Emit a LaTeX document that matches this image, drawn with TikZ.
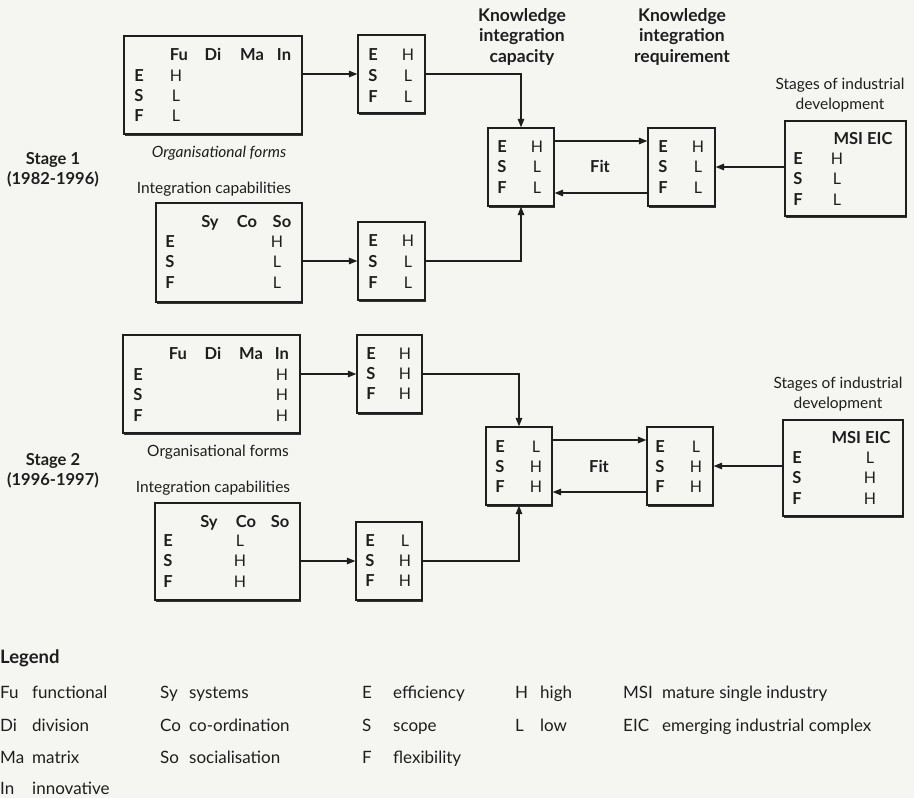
\documentclass[tikz,border=0pt]{standalone}
\usepackage{fontspec}
\setmainfont{Lato}
\usetikzlibrary{arrows.meta,shadows}

\definecolor{paper}{RGB}{245,245,241}
\definecolor{ink}{RGB}{30,30,30}

\tikzset{
  every node/.style={text=ink},
  txt/.style={inner sep=0pt, anchor=base, yshift=-6pt,
              font=\fontsize{16}{20.5}\selectfont},
  hd/.style={txt, font=\fontsize{16.5}{20.5}\selectfont\bfseries},
  ttl/.style={txt, align=center, font=\fontsize{17.5}{20.5}\selectfont\bfseries},
  stagelbl/.style={txt, align=center, font=\fontsize{16.5}{20}\selectfont\bfseries},
  captxt/.style={txt, align=center, font=\fontsize{15.5}{20}\selectfont},
  lg/.style={txt, anchor=base west, font=\fontsize{17}{20}\selectfont},
  tbl/.style={draw=ink, line width=1.2pt, fill=paper, inner sep=0pt,
              drop shadow={shadow xshift=1.3pt, shadow yshift=-1.6pt,
                           opacity=0.9, fill=ink}},
  arr/.style={draw=ink, line width=1.1pt,
              -{Triangle[length=8.5pt,width=6.5pt]}},
}

% bold row letters E, S, F: prefix, x, first y, row step
\newcommand{\esfrows}[4]{%
  \node[hd] (#1-E) at (#2,#3) {E};
  \node[hd] (#1-S) at (#2,#3+#4) {S};
  \node[hd] (#1-F) at (#2,#3+2*#4) {F};}
% ratings column: prefix, x, first y, row step, three values
\newcommand{\ratings}[7]{%
  \node[txt] (#1-1) at (#2,#3) {#5};
  \node[txt] (#1-2) at (#2,#3+#4) {#6};
  \node[txt] (#1-3) at (#2,#3+2*#4) {#7};}

\begin{document}
\begin{tikzpicture}[x=1pt,y=-1pt]
\useasboundingbox (0,0) rectangle (914,798);
\fill[paper] (0,0) rectangle (914,798);

% ---------------- Stage 1 ----------------
\node[tbl, minimum width=178pt, minimum height=98pt] (a1) at (213,85) {};
\node[tbl, minimum width=146pt, minimum height=99pt] (b1) at (229,252.5) {};
\node[tbl, minimum width=67pt, minimum height=78pt] (c1) at (391.5,74) {};
\node[tbl, minimum width=67pt, minimum height=78pt] (d1) at (391.5,261) {};
\node[tbl, minimum width=66pt, minimum height=78pt] (k1) at (521,167) {};
\node[tbl, minimum width=67pt, minimum height=78pt] (r1) at (681.5,167) {};
\node[tbl, minimum width=121pt, minimum height=95pt] (s1) at (845.5,168.5) {};

% organisational forms
\node[hd] (a1-fu) at (179,54) {Fu};
\node[hd] (a1-di) at (213,54) {Di};
\node[hd] (a1-ma) at (252,54) {Ma};
\node[hd] (a1-in) at (284,54) {In};
\esfrows{a1r}{139}{75}{20}
\ratings{a1v}{176}{75}{20}{H}{L}{L}
% integration capabilities
\node[hd] (b1-sy) at (210,221) {Sy};
\node[hd] (b1-co) at (247,221) {Co};
\node[hd] (b1-so) at (282,221) {So};
\esfrows{b1r}{170}{241}{20.5}
\ratings{b1v}{277}{241}{20.5}{H}{L}{L}
% summaries
\esfrows{c1r}{373}{54}{21}
\ratings{c1v}{408}{54}{21}{H}{L}{L}
\esfrows{d1r}{373}{240}{21}
\ratings{d1v}{408}{240}{21}{H}{L}{L}
\esfrows{k1r}{502}{146}{20.5}
\ratings{k1v}{537}{146}{20.5}{H}{L}{L}
\esfrows{r1r}{663}{146}{20.5}
\ratings{r1v}{698}{146}{20.5}{H}{L}{L}
% industrial development
\node[hd] (s1-h) at (863,138) {MSI EIC};
\esfrows{s1r}{798}{158}{20.5}
\ratings{s1v}{837}{158}{20.5}{H}{L}{L}

\node[captxt, font=\fontsize{15.5}{20}\selectfont\itshape] (org1) at (219,151) {Organisational forms};
\node[captxt] (int1) at (214,187) {Integration capabilities};
\node[stagelbl] (stg1) at (53,178) {Stage 1\\(1982-1996)};
\node[ttl] (kic) at (522,56) {Knowledge\\integration\\capacity};
\node[ttl] (kir) at (682,56) {Knowledge\\integration\\requirement};
\node[captxt] (sid1) at (840,103) {Stages of industrial\\development};
\node[hd] (fit1) at (600,166) {Fit};

\draw[arr] (a1.east |- c1.west) -- (c1.west);
\draw[arr] (b1.east |- d1.west) -- (d1.west);
\draw[arr] (c1.east) -| (k1.north);
\draw[arr] (d1.east) -| (k1.south);
\draw[arr] ([yshift=26pt]k1.east) -- ([yshift=26pt]k1.east -| r1.west);
\draw[arr] ([yshift=-26pt]r1.west) -- ([yshift=-26pt]r1.west -| k1.east);
\draw[arr] (r1.east -| s1.west) -- (r1.east);

% ---------------- Stage 2 ----------------
\node[tbl, minimum width=177pt, minimum height=98pt] (a2) at (211.5,384) {};
\node[tbl, minimum width=145pt, minimum height=97pt] (b2) at (227.5,551.5) {};
\node[tbl, minimum width=65pt, minimum height=78pt] (c2) at (389.5,374) {};
\node[tbl, minimum width=66pt, minimum height=78pt] (d2) at (389,561) {};
\node[tbl, minimum width=66pt, minimum height=78pt] (k2) at (519,466) {};
\node[tbl, minimum width=66pt, minimum height=78pt] (r2) at (680,466) {};
\node[tbl, minimum width=120pt, minimum height=96pt] (s2) at (843,468) {};

\node[hd] (a2-fu) at (178,353) {Fu};
\node[hd] (a2-di) at (213,353) {Di};
\node[hd] (a2-ma) at (251,353) {Ma};
\node[hd] (a2-in) at (282,353) {In};
\esfrows{a2r}{138}{374}{20.5}
\ratings{a2v}{282}{374}{20.5}{H}{H}{H}
\node[hd] (b2-sy) at (209,521) {Sy};
\node[hd] (b2-co) at (246,521) {Co};
\node[hd] (b2-so) at (280,521) {So};
\esfrows{b2r}{168}{540}{20.5}
\ratings{b2v}{240}{540}{20.5}{L}{H}{H}
\esfrows{c2r}{371}{353}{20}
\ratings{c2v}{405}{353}{20}{H}{H}{H}
\esfrows{d2r}{370}{540}{20}
\ratings{d2v}{405}{540}{20}{L}{H}{H}
\esfrows{k2r}{500}{446}{20}
\ratings{k2v}{536}{446}{20}{L}{H}{H}
\esfrows{r2r}{660}{446}{20}
\ratings{r2v}{696}{446}{20}{L}{H}{H}
\node[hd] (s2-h) at (861,437) {MSI EIC};
\esfrows{s2r}{797}{457}{20.5}
\ratings{s2v}{870}{457}{20.5}{L}{H}{H}

\node[captxt] (org2) at (218,450) {Organisational forms};
\node[captxt] (int2) at (213,486) {Integration capabilities};
\node[stagelbl] (stg2) at (53,479) {Stage 2\\(1996-1997)};
\node[captxt] (sid2) at (838,402) {Stages of industrial\\development};
\node[hd] (fit2) at (599,466) {Fit};

\draw[arr] (a2.east |- c2.west) -- (c2.west);
\draw[arr] (b2.east |- d2.west) -- (d2.west);
\draw[arr] (c2.east) -| (k2.north);
\draw[arr] (d2.east) -| (k2.south);
\draw[arr] ([yshift=26pt]k2.east) -- ([yshift=26pt]k2.east -| r2.west);
\draw[arr] ([yshift=-26pt]r2.west) -- ([yshift=-26pt]r2.west -| k2.east);
\draw[arr] (r2.east -| s2.west) -- (r2.east);

% ---------------- Legend ----------------
\node[lg, font=\fontsize{18.5}{20}\selectfont\bfseries] (leg) at (0,657) {Legend};
\node[lg] (lFu) at (0,692) {Fu};   \node[lg] (lFuT) at (32,692) {functional};
\node[lg] (lDi) at (0,725) {Di};   \node[lg] (lDiT) at (32,725) {division};
\node[lg] (lMa) at (0,757) {Ma};   \node[lg] (lMaT) at (32,757) {matrix};
\node[lg] (lIn) at (0,788) {In};   \node[lg] (lInT) at (32,788) {innovative};
\node[lg] (lSy) at (160,692) {Sy}; \node[lg] (lSyT) at (189,692) {systems};
\node[lg] (lCo) at (160,725) {Co}; \node[lg] (lCoT) at (189,725) {co-ordination};
\node[lg] (lSo) at (160,757) {So}; \node[lg] (lSoT) at (189,757) {socialisation};
\node[lg] (lE) at (362,692) {E};   \node[lg] (lET) at (393,692) {efficiency};
\node[lg] (lS) at (362,725) {S};   \node[lg] (lST) at (393,725) {scope};
\node[lg] (lF) at (362,757) {F};   \node[lg] (lFT) at (393,757) {flexibility};
\node[lg] (lH) at (515,692) {H};   \node[lg] (lHT) at (540,692) {high};
\node[lg] (lL) at (515,725) {L};   \node[lg] (lLT) at (540,725) {low};
\node[lg] (lMSI) at (623,692) {MSI}; \node[lg] (lMSIT) at (662,692) {mature single industry};
\node[lg] (lEIC) at (623,725) {EIC}; \node[lg] (lEICT) at (662,725) {emerging industrial complex};
\end{tikzpicture}
\end{document}
